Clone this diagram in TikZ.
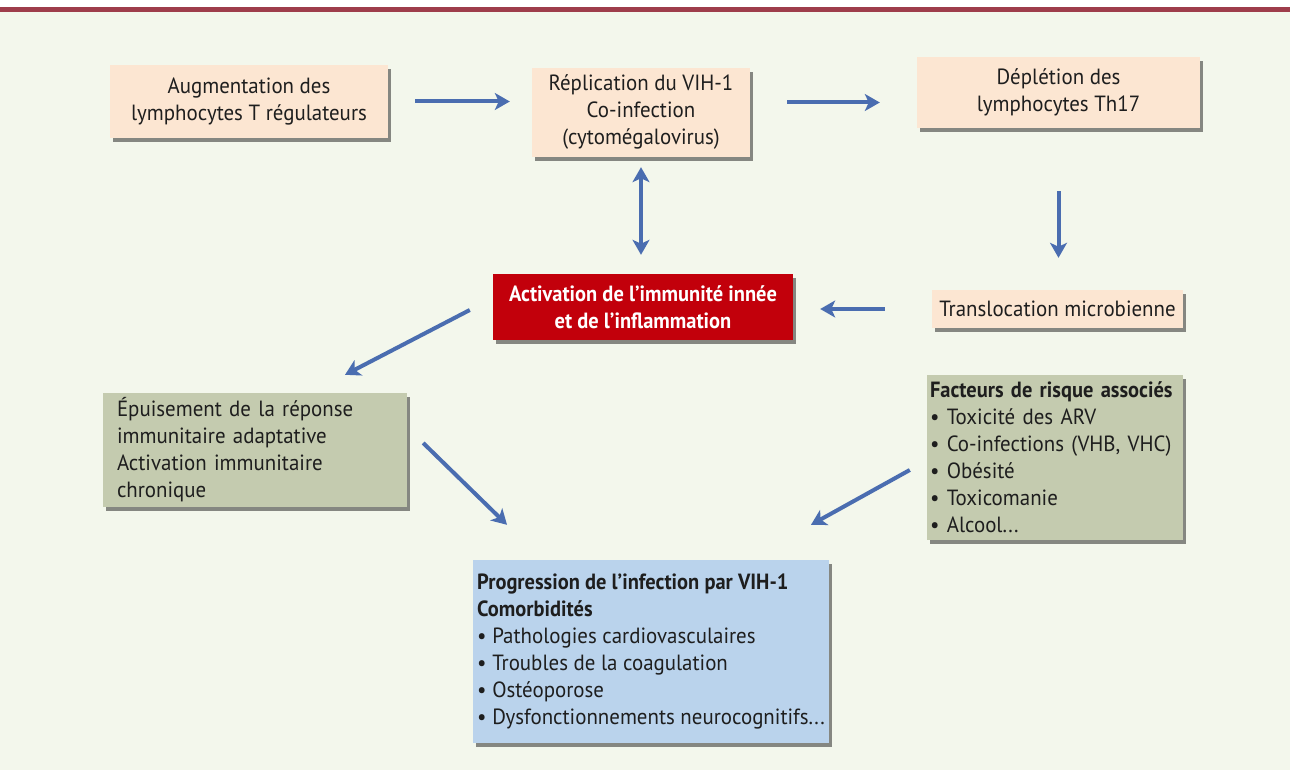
\documentclass[tikz,border=0pt]{standalone}
\usepackage{fontspec}
\setmainfont{PT Sans}[FakeStretch=0.95, BoldFeatures={FakeStretch=0.93}]
\usetikzlibrary{shadows}
\usetikzlibrary{arrows.meta}
\usetikzlibrary{positioning}
\usetikzlibrary{scopes}

\definecolor{peach}{HTML}{FCE6D2}
\definecolor{sage}{HTML}{C4CBAF}
\definecolor{skyblue}{HTML}{BAD3EC}
\definecolor{alertred}{HTML}{C2000B}
\definecolor{flow}{HTML}{4A6DB0}
\definecolor{paper}{HTML}{F3F7EC}
\definecolor{toprule}{HTML}{9E3D4B}
\definecolor{ink}{HTML}{1E1E1E}

\newcommand{\itemdot}{\textbullet\ }
\newcommand{\boxfont}{\fontsize{22}{27}\selectfont\hyphenpenalty=10000\relax\exhyphenpenalty=10000\relax}

\begin{document}
\begin{tikzpicture}[x=1pt,y=-1pt,
        box/.style={inner sep=0pt, text=ink, font=\boxfont,
            drop shadow={shadow xshift=3pt, shadow yshift=-4pt, fill=black, opacity=.45}},
        cbox/.style={box, fill=peach, align=center},
        lbox/.style={box, align=left},
        flowtip/.tip={Stealth[length=15pt,width=17pt,inset=4pt]},
        flowarrow/.style={draw=flow, line width=4pt, -flowtip}]
        \useasboundingbox (0,0) rectangle (1290,770);
        \fill[white] (0,0) rectangle (1290,770);
        \fill[paper] (0,12) rectangle (1290,770);
        \fill[toprule] (0,7) rectangle (1290,12);

        \node[cbox, minimum width=278pt, minimum height=73pt] (augm) at (249,101.5)
            {Augmentation des\\lymphocytes T régulateurs};
        \node[cbox, minimum width=218pt, minimum height=89pt] (repl) at (641,112.5)
            {Réplication du VIH-1\\Co-infection\\(cytomégalovirus)};
        \node[cbox, minimum width=283pt, minimum height=71pt] (depl) at (1058.5,92.5)
            {Déplétion des\\lymphocytes Th17};
        \node[cbox, minimum width=251pt, minimum height=38pt] (transl) at (1057.5,309)
            {Translocation microbienne};
        \node[cbox, fill=alertred, text=white, font=\boxfont\bfseries,
            minimum width=300pt, minimum height=66pt] (activ) at (643,307)
            {Activation de l’immunité innée\\et de l’inflammation};
        \node[lbox, fill=sage, text width=276pt, inner xsep=14pt, minimum height=114pt] (epuis) at (255,450)
            {Épuisement de la réponse\\immunitaire adaptative\\Activation immunitaire\\chronique};
        \node[lbox, fill=sage, text width=250pt, inner xsep=3pt, minimum height=165pt] (facteurs) at (1055,457.5)
            {\textbf{Facteurs de risque associés}\\\itemdot Toxicité des ARV\\\itemdot Co-infections (VHB, VHC)\\
            \itemdot Obésité\\\itemdot Toxicomanie\\\itemdot Alcool...};
        \node[lbox, fill=skyblue, inner xsep=4pt, minimum width=354pt, minimum height=183pt] (progr) at (651,651.5)
            {\textbf{Progression de l’infection par VIH-1}\\\textbf{Comorbidités}\\
            \itemdot Pathologies cardiovasculaires\\\itemdot Troubles de la coagulation\\
            \itemdot Ostéoporose\\\itemdot Dysfonctionnements neurocognitifs...};

        { [flowarrow]
            \draw[shorten <=27pt, shorten >=22pt] (augm.east) -- (augm.east -| repl.west);
            \draw[shorten <=37pt, shorten >=37pt] ([yshift=-10pt]depl.west -| repl.east) -- ([yshift=-10pt]depl.west);
            \draw[shorten <=63pt, shorten >=32pt] (depl.south) -- (depl.south |- transl.north);
            \draw[shorten <=47pt, shorten >=27pt] (transl.west) -- (transl.west -| activ.east);
            \draw[flowtip-flowtip, shorten <=10pt, shorten >=19pt] (repl.south) -- (repl.south |- activ.north);
            \draw ([xshift=-23pt,yshift=-3pt]activ.west) -- ([xshift=90pt,yshift=18pt]epuis.north);
            \draw ([xshift=16pt,yshift=7pt]epuis.east) -- ([xshift=34pt,yshift=35pt]progr.north west);
            \draw ([xshift=-17pt,yshift=-12.5pt]facteurs.west) -- ([xshift=-18pt,yshift=35pt]progr.north east);
        }
    \end{tikzpicture}
\end{document}
